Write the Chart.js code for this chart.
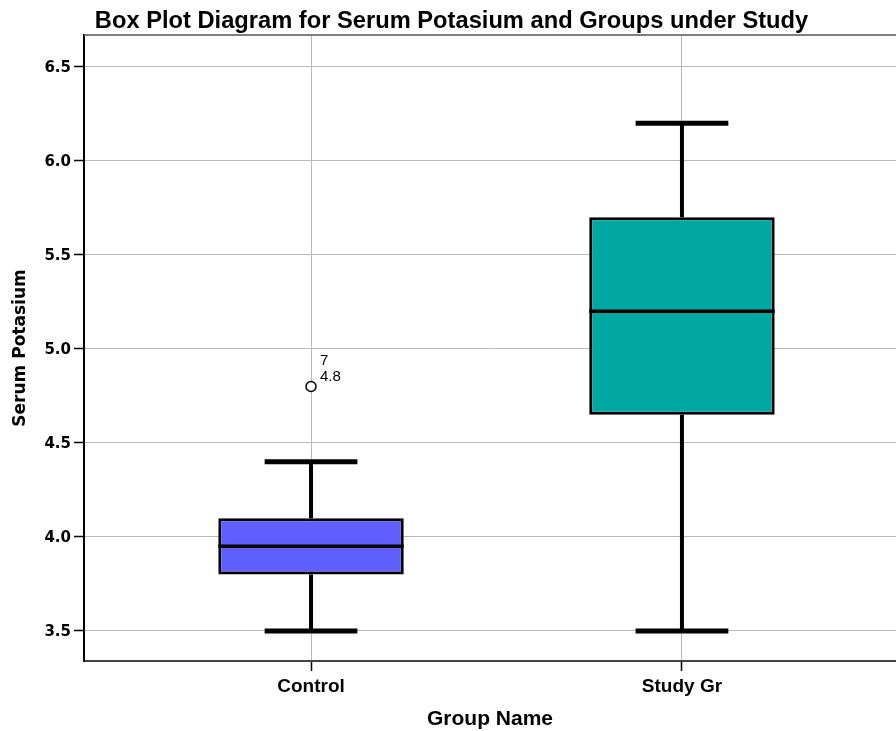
<!DOCTYPE html>
<html>
<head>
<meta charset="utf-8">
<style>
  html, body { margin: 0; padding: 0; background: #fff; }
  #wrap { width: 896px; height: 731px; position: relative; }
</style>
<script src="https://cdn.jsdelivr.net/npm/chart.js@4.4.1/dist/chart.umd.min.js"></script>
</head>
<body>
<div id="wrap"><canvas id="chart"></canvas></div>
<script>
// Box plot summary per group
const categories = ['Control', 'Study Gr'];
const whiskerLow = [3.5, 3.5];
const q1 = [3.8, 4.65];
const median = [3.95, 5.2];
const q3 = [4.1, 5.7];
const whiskerHigh = [4.4, 6.2];
const boxColors = ['#5f5fff', '#00a8a2'];

// Outliers: group index, value, case number
const outlierGroup = [0];
const outlierValue = [4.8];
const outlierCase = ['7'];

const yTicks = [3.5, 4.0, 4.5, 5.0, 5.5, 6.0, 6.5];
const yTickLabels = ['3.5', '4.0', '4.5', '5.0', '5.5', '6.0', '6.5'];

const BOX_HALF = 0.25;   // in x units
const CAP_HALF = 0.125;

// whiskers, caps, medians, outlier labels, top frame
const boxPlotPlugin = {
  id: 'boxPlot',
  beforeDatasetsDraw(chart) {
    const { ctx, scales: { x, y } } = chart;
    ctx.save();
    ctx.strokeStyle = '#000';
    ctx.lineWidth = 4;
    categories.forEach((c, i) => {
      const px = x.getPixelForValue(i + 1);
      ctx.beginPath();
      ctx.moveTo(px, y.getPixelForValue(whiskerLow[i]));
      ctx.lineTo(px, y.getPixelForValue(q1[i]));
      ctx.moveTo(px, y.getPixelForValue(q3[i]));
      ctx.lineTo(px, y.getPixelForValue(whiskerHigh[i]));
      ctx.stroke();
    });
    ctx.restore();
  },
  afterDatasetsDraw(chart) {
    const { ctx, chartArea, scales: { x, y } } = chart;
    ctx.save();
    ctx.strokeStyle = '#000';
    categories.forEach((c, i) => {
      const l = x.getPixelForValue(i + 1 - CAP_HALF);
      const r = x.getPixelForValue(i + 1 + CAP_HALF);
      ctx.lineWidth = 5;
      [whiskerLow[i], whiskerHigh[i]].forEach(v => {
        const py = y.getPixelForValue(v);
        ctx.beginPath();
        ctx.moveTo(l, py);
        ctx.lineTo(r, py);
        ctx.stroke();
      });
      ctx.lineWidth = 3.5;
      const my = y.getPixelForValue(median[i]);
      ctx.beginPath();
      ctx.moveTo(x.getPixelForValue(i + 1 - BOX_HALF), my);
      ctx.lineTo(x.getPixelForValue(i + 1 + BOX_HALF), my);
      ctx.stroke();
    });

    // case number and value next to each outlier
    ctx.fillStyle = '#000';
    ctx.font = '15px "Liberation Sans", Arial, sans-serif';
    ctx.textAlign = 'left';
    ctx.textBaseline = 'alphabetic';
    outlierValue.forEach((v, k) => {
      const px = x.getPixelForValue(outlierGroup[k] + 1);
      const py = y.getPixelForValue(v);
      ctx.fillText(outlierCase[k], px + 9, py - 22);
      ctx.fillText(v.toFixed(1), px + 9, py - 6);
    });

    // top frame line
    ctx.strokeStyle = '#555';
    ctx.lineWidth = 1.5;
    ctx.beginPath();
    ctx.moveTo(chartArea.left, chartArea.top);
    ctx.lineTo(chartArea.right, chartArea.top);
    ctx.stroke();
    ctx.restore();
  }
};

const gridStyle = {
  color: '#b9b9b9',
  lineWidth: 1,
  tickColor: '#000',
  tickLength: 10,
  tickWidth: 1.5,
  offset: false
};

new Chart(document.getElementById('chart'), {
  type: 'bar',
  data: {
    datasets: [
      {
        type: 'bar',
        data: categories.map((c, i) => ({ x: i + 1, y: [q1[i], q3[i]] })),
        backgroundColor: boxColors,
        borderColor: '#000',
        borderWidth: 3,
        borderSkipped: false,
        categoryPercentage: 1,
        barPercentage: 0.5,
        order: 2
      },
      {
        type: 'scatter',
        data: outlierValue.map((v, k) => ({ x: outlierGroup[k] + 1, y: v })),
        pointRadius: 5,
        pointBackgroundColor: '#fff',
        pointBorderColor: '#000',
        pointBorderWidth: 1.5,
        order: 1
      }
    ]
  },
  options: {
    responsive: true,
    maintainAspectRatio: false,
    animation: false,
    devicePixelRatio: 1,
    layout: { autoPadding: false, padding: { left: 7, right: 0, top: 0, bottom: 0 } },
    plugins: {
      legend: { display: false },
      tooltip: { enabled: false },
      title: {
        display: true,
        text: 'Box Plot Diagram for Serum Potasium and Groups under Study',
        color: '#000',
        align: 'center',
        font: { family: '"Liberation Sans", Arial, sans-serif', size: 23.7, weight: 'bold', lineHeight: 1.1 },
        padding: { top: 8, bottom: 0.93 }
      }
    },
    scales: {
      x: {
        type: 'linear',
        min: 0.388,
        max: 2.577,
        offset: false,
        grid: gridStyle,
        border: { color: '#444', width: 2 },
        afterBuildTicks: (s) => { s.ticks = categories.map((c, i) => ({ value: i + 1 })); },
        afterFit: (s) => { s.height = 70; s.paddingLeft = 0; s.paddingRight = 0; },
        ticks: {
          color: '#000',
          padding: 4,
          maxRotation: 0,
          font: { family: '"Liberation Sans", Arial, sans-serif', size: 19, weight: 'bold' },
          callback: (v, i) => categories[i]
        },
        title: {
          display: true,
          text: 'Group Name',
          color: '#000',
          font: { family: '"Liberation Sans", Arial, sans-serif', size: 21, weight: 'bold' },
          padding: { top: 0, bottom: -1 }
        }
      },
      y: {
        type: 'linear',
        min: 3.34,
        max: 6.67,
        grid: gridStyle,
        border: { color: '#000', width: 2 },
        afterBuildTicks: (s) => { s.ticks = yTicks.map(v => ({ value: v })); },
        afterFit: (s) => { s.width = 77; s.paddingTop = 0; s.paddingBottom = 0; },
        ticks: {
          color: '#000',
          padding: 3,
          labelOffset: 1,
          font: { family: '"DejaVu Sans", Verdana, sans-serif', size: 15, weight: 'bold' },
          callback: (v, i) => yTickLabels[i]
        },
        title: {
          display: true,
          text: 'Serum Potasium',
          color: '#000',
          font: { family: '"DejaVu Sans", Verdana, sans-serif', size: 17, weight: 'bold' },
          padding: { top: 3, bottom: 0 }
        }
      }
    }
  },
  plugins: [boxPlotPlugin]
});
</script>
</body>
</html>
